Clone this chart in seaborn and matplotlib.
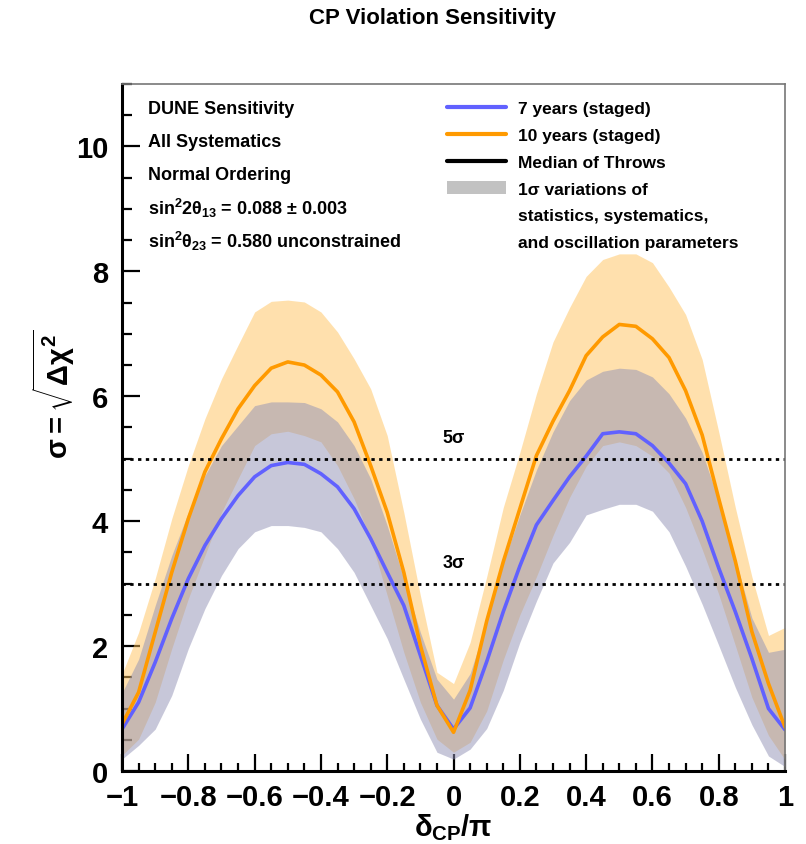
import numpy as np
import pandas as pd
import seaborn as sns
import matplotlib.pyplot as plt
from matplotlib.lines import Line2D
from matplotlib.patches import Patch
from matplotlib.ticker import MultipleLocator

# delta_CP / pi grid (41 points, step 0.05)
delta_cp = np.linspace(-1.0, 1.0, 41)

sig_7yr = [0.67, 1.10, 1.74, 2.44, 3.08, 3.61, 4.04, 4.41, 4.71, 4.89, 4.94,
           4.91, 4.76, 4.55, 4.20, 3.72, 3.18, 2.65, 1.85, 1.05, 0.67,
           1.01, 1.75, 2.55, 3.28, 3.94, 4.33, 4.71, 5.04, 5.40, 5.43,
           5.40, 5.21, 4.93, 4.60, 4.00, 3.25, 2.55, 1.80, 1.00, 0.66]
sig_10yr = [0.75, 1.26, 2.22, 3.18, 4.04, 4.79, 5.32, 5.80, 6.17, 6.45, 6.55,
            6.50, 6.34, 6.07, 5.59, 4.89, 4.14, 3.18, 2.01, 1.05, 0.62,
            1.29, 2.40, 3.35, 4.20, 5.05, 5.60, 6.09, 6.65, 6.95, 7.15,
            7.12, 6.92, 6.62, 6.09, 5.38, 4.36, 3.36, 2.23, 1.40, 0.70]

# 1 sigma bands of the throws
band_7yr_lo = [0.19, 0.41, 0.67, 1.21, 1.96, 2.60, 3.13, 3.56, 3.83, 3.93, 3.93,
               3.90, 3.83, 3.56, 3.18, 2.65, 2.12, 1.47, 0.83, 0.30, 0.19,
               0.35, 0.68, 1.29, 2.06, 2.72, 3.33, 3.66, 4.10, 4.19, 4.27,
               4.27, 4.16, 3.83, 3.28, 2.67, 2.01, 1.34, 0.74, 0.24, 0.07]
band_7yr_hi = [1.25, 1.79, 2.65, 3.45, 4.14, 4.73, 5.21, 5.53, 5.85, 5.91, 5.91,
               5.90, 5.80, 5.59, 5.21, 4.68, 3.93, 3.08, 2.22, 1.47, 1.15,
               1.56, 2.39, 3.33, 4.10, 4.82, 5.43, 5.93, 6.26, 6.40, 6.45,
               6.43, 6.31, 6.04, 5.65, 5.10, 4.33, 3.39, 2.45, 1.90, 1.95]
band_10yr_lo = [0.25, 0.51, 1.10, 1.96, 2.76, 3.45, 4.14, 4.68, 5.21, 5.40, 5.44,
                5.37, 5.27, 4.89, 4.36, 3.72, 2.81, 1.90, 1.10, 0.51, 0.30,
                0.46, 0.96, 1.78, 2.50, 3.11, 3.77, 4.38, 4.88, 5.21, 5.27,
                5.21, 5.04, 4.77, 4.22, 3.55, 2.83, 2.01, 1.18, 0.57, 0.18]
band_10yr_hi = [1.55, 2.22, 3.08, 4.04, 4.89, 5.64, 6.28, 6.82, 7.35, 7.52, 7.54,
                7.51, 7.35, 7.03, 6.60, 6.12, 5.37, 4.14, 2.81, 1.58, 1.40,
                2.06, 3.11, 4.22, 5.10, 6.04, 6.87, 7.42, 7.92, 8.19, 8.28,
                8.28, 8.14, 7.75, 7.31, 6.59, 5.43, 4.22, 3.11, 2.17, 2.30]

sigma_levels = [3, 5]
sigma_labels = ['3σ', '5σ']
xticks = [-1, -0.8, -0.6, -0.4, -0.2, 0, 0.2, 0.4, 0.6, 0.8, 1]
xtick_labels = ['−1', '−0.8', '−0.6', '−0.4', '−0.2', '0', '0.2', '0.4', '0.6', '0.8', '1']
yticks = [0, 2, 4, 6, 8, 10]
info_lines = ['DUNE Sensitivity', 'All Systematics', 'Normal Ordering',
              r'sin$^{2}$2$\theta_{13}$ = 0.088 $\pm$ 0.003',
              r'sin$^{2}$$\theta_{23}$ = 0.580 unconstrained']

sns.set_style('white')
plt.rcParams['font.family'] = ['Liberation Sans', 'DejaVu Sans']
plt.rcParams['font.weight'] = 'bold'
plt.rcParams['text.color'] = 'black'
plt.rcParams['axes.labelcolor'] = 'black'
plt.rcParams['xtick.color'] = 'black'
plt.rcParams['ytick.color'] = 'black'
plt.rcParams['mathtext.fontset'] = 'custom'
plt.rcParams['mathtext.rm'] = 'Liberation Sans:bold'
plt.rcParams['mathtext.it'] = 'Liberation Sans:bold'
plt.rcParams['mathtext.bf'] = 'Liberation Sans:bold'

blue = '#6161ff'
orange = '#ff9a00'

df = pd.DataFrame({
    'dcp': np.concatenate([delta_cp, delta_cp]),
    'sigma': sig_7yr + sig_10yr,
    'exposure': ['7 years (staged)'] * 41 + ['10 years (staged)'] * 41,
})

fig = plt.figure(figsize=(8.06, 8.45), dpi=100)
ax = fig.add_axes([0.1514, 0.0864, 0.8226, 0.813])

ax.fill_between(delta_cp, band_10yr_lo, band_10yr_hi, color='#ffc35c', alpha=0.5, lw=0)
ax.fill_between(delta_cp, band_7yr_lo, band_7yr_hi, color='#9191b5', alpha=0.5, lw=0)

sns.lineplot(data=df, x='dcp', y='sigma', hue='exposure',
             palette={'7 years (staged)': blue, '10 years (staged)': orange},
             linewidth=2.6, legend=False, ax=ax, sort=False)

for lvl, lab in zip(sigma_levels, sigma_labels):
    ax.axhline(lvl, color='black', ls=(0, (1.2, 1.6)), lw=2)
    ax.text(0.0, lvl + 0.2, lab, ha='center', va='bottom', fontsize=13,
            fontweight='bold')

ax.set_xlim(-1, 1)
ax.set_ylim(0, 11)
ax.set_xticks(xticks, labels=xtick_labels)
ax.set_yticks(yticks)
ax.xaxis.set_minor_locator(MultipleLocator(0.05))
ax.yaxis.set_minor_locator(MultipleLocator(0.5))
ax.tick_params(axis='both', which='both', direction='in', top=False, right=False,
               bottom=True, left=True, width=1.6, labelsize=21, color='black')
ax.tick_params(axis='x', which='major', length=12.5, pad=9)
ax.tick_params(axis='x', which='minor', length=6)
ax.tick_params(axis='y', which='major', length=13, pad=10)
ax.tick_params(axis='y', which='minor', length=7)
for lab in ax.get_xticklabels() + ax.get_yticklabels():
    lab.set_fontweight('bold')

for side in ['left', 'bottom']:
    ax.spines[side].set_linewidth(2.2)
    ax.spines[side].set_color('black')
for side in ['top', 'right']:
    ax.spines[side].set_linewidth(1.2)
    ax.spines[side].set_color('#777777')

ax.set_xlabel(r'$\delta_{CP}/\pi$', fontsize=21, labelpad=0)
ax.set_ylabel(r'$\sigma = \sqrt{\Delta\chi^{2}}$', fontsize=21)
ax.yaxis.set_label_coords(-0.068, 0.55)

for i, line in enumerate(info_lines):
    ax.text(0.039, 0.964 - i * 0.048, line, transform=ax.transAxes,
            ha='left', va='center', fontsize=13, fontweight='bold')

handles = [Line2D([], [], color=blue, lw=3),
           Line2D([], [], color=orange, lw=3),
           Line2D([], [], color='black', lw=3),
           Patch(facecolor='#c2c2c2', edgecolor='none'),
           Line2D([], [], color='none'),
           Line2D([], [], color='none')]
labels = ['7 years (staged)', '10 years (staged)', 'Median of Throws',
          '1σ variations of', 'statistics, systematics,',
          'and oscillation parameters']
ax.legend(handles, labels, loc='upper left', bbox_to_anchor=(0.467, 0.998),
          frameon=False, prop={'size': 12.5, 'weight': 'bold'},
          handlelength=3.4, handletextpad=0.65, labelspacing=0.67)

fig.text(0.537, 0.978, 'CP Violation Sensitivity', ha='center', va='center',
         fontsize=16, fontweight='bold')

fig.savefig('out.png', dpi=100)
